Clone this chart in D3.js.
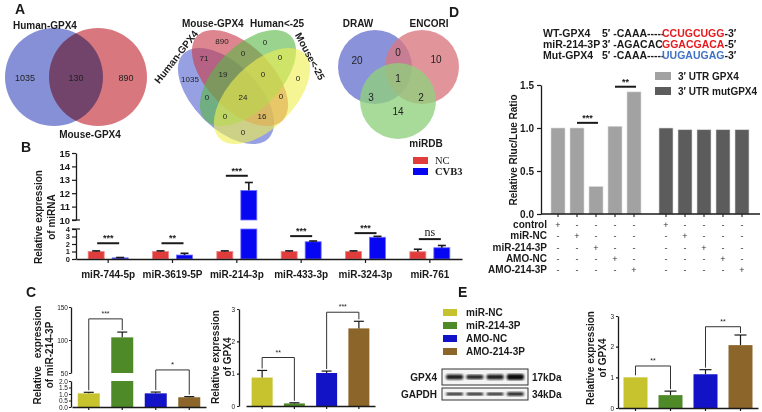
<!DOCTYPE html>
<html>
<head>
<meta charset="utf-8">
<script src="https://cdn.jsdelivr.net/npm/d3@7"></script>
<style>
  body { margin: 0; background: #fff; }
  svg { display: block; }
</style>
</head>
<body>
<svg id="fig" width="762" height="412"></svg>
<script>
// ---- data ----
const venn2Sets = ["Human-GPX4", "Mouse-GPX4"];
const venn2Counts = [1035, 130, 890];            // only A, A&B, only B
const venn4Sets = ["Human-GPX4", "Mouse-GPX4", "Human<-25", "Mouse<-25"];
const venn4Counts = [1035, 890, 0, 0, 71, 0, 0, 19, 0, 0, 24, 0, 0, 16, 0];
const venn3Sets = ["DRAW", "ENCORI", "miRDB"];
const venn3Counts = [20, 10, 14, 0, 3, 2, 1];     // D, E, M, D&E, D&M, E&M, all

const mirnaNames = ["miR-744-5p", "miR-3619-5P", "miR-214-3p", "miR-433-3p", "miR-324-3p", "miR-761"];
const ncValues = [1.0, 1.0, 1.0, 1.0, 1.0, 0.97];
const ncErrors = [0.08, 0.08, 0.08, 0.08, 0.08, 0.33];
const cvb3Values = [0.15, 0.53, 12.2, 2.3, 2.9, 1.5];
const cvb3Errors = [0.05, 0.23, 0.6, 0.1, 0.12, 0.3];
const mirnaSig = ["***", "**", "***", "***", "***", "ns"];
const mirnaSigLevel = [2.1, 2.1, 13.3, 3.05, 3.45, 2.65];

const groupNames = ["miR-NC", "miR-214-3P", "AMO-NC", "AMO-214-3P"];
const mir214Values = [1.05, 104, 1.05, 0.75];
const mir214Errors = [0.08, 8, 0.1, 0.05];
const gpxRnaValues = [0.88, 0.08, 1.02, 2.4];
const gpxRnaErrors = [0.22, 0.02, 0.06, 0.22];
const gpxProteinValues = [1.0, 0.42, 1.1, 2.05];
const gpxProteinErrors = [0.0, 0.13, 0.15, 0.33];

const lucRows = ["control", "miR-NC", "miR-214-3P", "AMO-NC", "AMO-214-3P"];
const lucSeries = ["3\u2032 UTR GPX4", "3\u2032 UTR mutGPX4"];
const utrGpx4 = [1.0, 1.0, 0.32, 1.02, 1.42];
const utrMutGpx4 = [1.0, 0.98, 0.98, 0.98, 0.98];

const seqNames = ["WT-GPX4", "miR-214-3P", "Mut-GPX4"];
const seqLeft = ["5\u2032 -CAAA-----", "3\u2032 -AGACAC", "5\u2032 -CAAA-----"];
const seqSite = ["CCUGCUGG", "GGACGACA", "UUGAUGAG"];
const seqRight = ["-3\u2032", "-5\u2032", "-3\u2032"];

const blotProteins = ["GPX4", "GAPDH"];
const blotSizes = ["17kDa", "34kDa"];
const gpx4Bands = [0.85, 0.75, 0.85, 1.0];
const gapdhBands = [0.8, 0.8, 0.8, 0.9];

// ---- helpers ----
const font = '"Liberation Sans", Arial, sans-serif';
const serif = '"Liberation Serif", "Times New Roman", serif';
const ink = "#1a1a1a";
const groupColors = ["#c7c32e", "#4f8a28", "#1212c6", "#8b6529"];

const svg = d3.select("#fig");
svg.append("rect").attr("width", 762).attr("height", 412).attr("fill", "#fff");

function txt(g, x, y, s, o = {}) {
  return g.append("text").attr("x", x).attr("y", y).text(s)
    .attr("font-family", o.family || font)
    .attr("font-size", o.size || 10)
    .attr("font-weight", o.weight || "bold")
    .attr("text-anchor", o.anchor || "start")
    .attr("fill", o.fill || ink);
}

function styleAxis(sel, size, weight) {
  sel.attr("font-family", font).attr("font-size", size).attr("font-weight", weight);
  sel.select(".domain").attr("stroke", ink).attr("stroke-width", 1.3);
  sel.selectAll(".tick line").attr("stroke", ink).attr("stroke-width", 1.2);
  sel.selectAll(".tick text").attr("fill", ink);
}

function line(g, x1, y1, x2, y2, w) {
  g.append("line").attr("x1", x1).attr("y1", y1).attr("x2", x2).attr("y2", y2)
    .attr("stroke", ink).attr("stroke-width", w || 1.2);
}

function errBar(g, x, y0, y1, cap, w) {
  line(g, x, y0, x, y1, w);
  line(g, x - cap, y1, x + cap, y1, w);
}

function bracket(g, x1, x2, yTop, yL, yR, label, size) {
  g.append("path").attr("d", `M${x1},${yL}V${yTop}H${x2}V${yR}`)
    .attr("fill", "none").attr("stroke", "#333").attr("stroke-width", 1);
  txt(g, (x1 + x2) / 2, yTop - 3, label, { size: size || 7, weight: "normal", anchor: "middle" });
}

function yLabel(g, x, y, lines, gap) {
  const t = g.append("text").attr("transform", `translate(${x},${y}) rotate(-90)`)
    .attr("font-family", font).attr("font-size", 10).attr("font-weight", "bold")
    .attr("text-anchor", "middle").attr("fill", ink);
  lines.forEach((s, i) => t.append("tspan").attr("x", 0).attr("dy", i ? gap : 0).text(s));
}

// ---- panel letters ----
[["A", 15, 14], ["B", 21, 152], ["C", 26, 297], ["D", 449, 17], ["E", 458, 297]]
  .forEach(([s, x, y]) => txt(svg, x, y, s, { size: 14 }));

// ---- A: two-set venn ----
{
  const g = svg.append("g");
  const cy = 77, r = 49;
  const cx = [54, 98];
  const fills = ["#8690d6", "#d9777f"];
  cx.forEach((x, i) => g.append("circle").attr("cx", x).attr("cy", cy).attr("r", r)
    .attr("fill", fills[i]).style("mix-blend-mode", i ? "multiply" : "normal"));
  const lx = [(cx[0] - r + cx[1] - r) / 2 - 2, (cx[0] + cx[1]) / 2, (cx[0] + r + cx[1] + r) / 2 + 1];
  venn2Counts.forEach((v, i) => txt(g, lx[i], cy + 4, v, { size: 9, weight: "normal", anchor: "middle", fill: "#222" }));
  txt(g, 13, 29, venn2Sets[0], { size: 10 });
  txt(g, 90, 138, venn2Sets[1], { size: 10, anchor: "middle" });
}

// ---- A: four-set venn ----
{
  const g = svg.append("g");
  const cx = 244, cy = 84, a = 60, b = 32;
  const ell = [
    { x: cx - 18, y: cy + 12, r: 45, c: "#5566d0" },
    { x: cx - 4, y: cy - 6, r: 45, c: "#c83c4a" },
    { x: cx + 4, y: cy - 6, r: -45, c: "#5ab848" },
    { x: cx + 18, y: cy + 12, r: -45, c: "#efef50" }
  ];
  ell.forEach(e => g.append("ellipse").attr("rx", a).attr("ry", b)
    .attr("transform", `translate(${e.x},${e.y}) rotate(${e.r})`)
    .attr("fill", e.c).attr("fill-opacity", 0.62));
  // region label anchors (layout, relative to diagram centre)
  const spots = [[-54, -5], [-22, -43], [21, -42], [54, -6], [-40, -26], [-1, -31], [36, -27],
    [-21, -10], [19, -10], [-37, 13], [-1, 13], [37, 12], [-19, 32], [18, 32], [-1, 48]];
  venn4Counts.forEach((v, i) => txt(g, cx + spots[i][0], cy + spots[i][1] + 3, v,
    { size: 8, weight: "normal", anchor: "middle", fill: "#222" }));
  txt(g, 182, 27, venn4Sets[1], { size: 10 });
  txt(g, 250, 27, venn4Sets[2], { size: 10 });
  txt(g, 0, 0, venn4Sets[0], { size: 10, anchor: "middle" })
    .attr("transform", "translate(179,59) rotate(-52)");
  txt(g, 0, 0, venn4Sets[3], { size: 10, anchor: "middle" })
    .attr("transform", "translate(307,58) rotate(62)");
}

// ---- A: three-set venn ----
{
  const g = svg.append("g");
  const c = [{ x: 375, y: 67, r: 37, f: "#8a92da" }, { x: 422, y: 67, r: 37, f: "#d8777f" }, { x: 398, y: 101, r: 38, f: "#8fd07c" }];
  c.forEach((d, i) => g.append("circle").attr("cx", d.x).attr("cy", d.y).attr("r", d.r)
    .attr("fill", d.f).attr("fill-opacity", i ? 0.78 : 1));
  const spots = [[357, 60], [436, 59], [398, 111], [398, 52], [371, 97], [421, 97], [398, 78]];
  venn3Counts.forEach((v, i) => txt(g, spots[i][0], spots[i][1] + 4, v, { size: 10, weight: "normal", anchor: "middle", fill: "#222" }));
  txt(g, 358, 27, venn3Sets[0], { size: 10 , anchor: "middle" });
  txt(g, 429, 27, venn3Sets[1], { size: 10, anchor: "middle" });
  txt(g, 426, 147, venn3Sets[2], { size: 10, anchor: "middle" });
}

// ---- B: miRNA expression with broken axis ----
{
  const g = svg.append("g");
  const yLow = d3.scaleLinear().domain([0, 4]).range([259, 229]);
  const yUp = d3.scaleLinear().domain([10, 15]).range([220, 153]);
  const yMap = v => v < 10 ? yLow(v) : yUp(v);
  const x = d3.scaleBand().domain(mirnaNames).range([76, 462]);
  const sub = d3.scalePoint().domain(["NC", "CVB3"]).range([-12, 12]);
  const center = n => x(n) + x.bandwidth() / 2;
  const bw = 16;
  const series = [
    { key: "NC", vals: ncValues, errs: ncErrors, c: "#e03c3c", s: "#f08585" },
    { key: "CVB3", vals: cvb3Values, errs: cvb3Errors, c: "#0606f2", s: "#7070ff" }
  ];
  series.forEach(s => {
    mirnaNames.forEach((n, i) => {
      const v = s.vals[i], cxp = center(n) + sub(s.key);
      const lowTop = yLow(Math.min(v, 4));
      g.append("rect").attr("x", cxp - bw / 2).attr("y", lowTop).attr("width", bw)
        .attr("height", yLow(0) - lowTop).attr("fill", s.c).attr("stroke", s.s).attr("stroke-width", 0.8);
      if (v > 10) {
        g.append("rect").attr("x", cxp - bw / 2).attr("y", yUp(v)).attr("width", bw)
          .attr("height", yUp(10) - yUp(v)).attr("fill", s.c).attr("stroke", s.s).attr("stroke-width", 0.8);
      }
      errBar(g, cxp, yMap(v), yMap(v + s.errs[i]), 4, 1.6);
    });
  });
  mirnaNames.forEach((n, i) => {
    const yl = yMap(mirnaSigLevel[i]), c = center(n);
    line(g, c - 11, yl, c + 11, yl, 2);
    if (mirnaSig[i] === "ns") txt(g, c, yl - 3, "ns", { size: 12, weight: "normal", anchor: "middle", family: serif });
    else txt(g, c, yl - 2, mirnaSig[i], { size: 9, weight: "bold", anchor: "middle" });
  });
  styleAxis(g.append("g").attr("transform", "translate(76,0)")
    .call(d3.axisLeft(yLow).tickValues([0, 1, 2, 3, 4]).tickFormat(d3.format("d")).tickSize(4).tickPadding(2).tickSizeOuter(0)), 7.5, "bold");
  styleAxis(g.append("g").attr("transform", "translate(76,0)")
    .call(d3.axisLeft(yUp).tickValues([10, 11, 12, 13, 14, 15]).tickFormat(d3.format("d")).tickSize(4).tickPadding(2).tickSizeOuter(0)), 9.5, "bold");
  line(g, 72, yLow(4), 80, yLow(4), 1.2);
  line(g, 72, yUp(10), 80, yUp(10), 1.2);
  const xa = g.append("g").attr("transform", `translate(0,${yLow(0)})`)
    .call(d3.axisBottom(x).tickSize(4).tickSizeOuter(0).tickPadding(6));
  styleAxis(xa, 10, "bold");
  xa.selectAll(".tick text").attr("dy", "0.9em");
  yLabel(g, 42, 217, ["Relative expression", "of miRNA"], 12.5);
  series.forEach((s, i) => {
    g.append("rect").attr("x", 413).attr("y", 157 + i * 11).attr("width", 15).attr("height", 7).attr("fill", s.c);
    txt(g, 435, 164 + i * 11, s.key, { size: 10.5, weight: i ? "bold" : "normal", family: serif });
  });
}

// ---- C left: miR-214-3P (broken axis) ----
{
  const g = svg.append("g");
  const yLow = d3.scaleLinear().domain([0, 2]).range([407, 381]);
  const yUp = d3.scaleLinear().domain([50, 150]).range([373, 307]);
  const yMap = v => v < 50 ? yLow(v) : yUp(v);
  const x = d3.scaleBand().domain(groupNames).range([72, 206]);
  const ctr = n => x(n) + x.bandwidth() / 2;
  const bw = 22;
  groupNames.forEach((n, i) => {
    const v = mir214Values[i], c = ctr(n);
    const lt = yLow(Math.min(v, 2));
    g.append("rect").attr("x", c - bw / 2).attr("y", lt).attr("width", bw).attr("height", yLow(0) - lt).attr("fill", groupColors[i]);
    if (v > 50) g.append("rect").attr("x", c - bw / 2).attr("y", yUp(v)).attr("width", bw).attr("height", yUp(50) - yUp(v)).attr("fill", groupColors[i]);
    errBar(g, c, yMap(v), yMap(v + mir214Errors[i]), 5, 1.2);
  });
  const top = i => yMap(mir214Values[i] + mir214Errors[i]) - 2;
  bracket(g, ctr(groupNames[0]), ctr(groupNames[1]), yUp(132), top(0), top(1), "***", 7);
  bracket(g, ctr(groupNames[2]), ctr(groupNames[3]), yLow(2.85), top(2), top(3), "*", 8);
  styleAxis(g.append("g").attr("transform", "translate(71,0)")
    .call(d3.axisLeft(yLow).tickValues([0, 0.5, 1, 1.5, 2]).tickFormat(d3.format(".1f")).tickSize(2).tickPadding(1).tickSizeOuter(0)), 6.5, "normal");
  styleAxis(g.append("g").attr("transform", "translate(71,0)")
    .call(d3.axisLeft(yUp).tickValues([50, 100, 150]).tickSize(2).tickPadding(1).tickSizeOuter(0)), 6.5, "normal");
  styleAxis(g.append("g").attr("transform", `translate(0,${yLow(0)})`)
    .call(d3.axisBottom(x).tickSize(3).tickSizeOuter(0).tickFormat("")), 6, "normal");
  const yl = g.append("text").attr("transform", "translate(41,355) rotate(-90)")
    .attr("font-family", font).attr("font-size", 10).attr("font-weight", "bold").attr("text-anchor", "middle").attr("fill", ink);
  yl.append("tspan").attr("x", 0).attr("word-spacing", 5).text("Relative expression");
  yl.append("tspan").attr("x", 0).attr("dy", 12).text("of miR-214-3P");
}

// ---- C right: GPX4 mRNA ----
{
  const g = svg.append("g");
  const y = d3.scaleLinear().domain([0, 3]).range([406, 309]);
  const x = d3.scaleBand().domain(groupNames).range([246, 375]);
  const ctr = n => x(n) + x.bandwidth() / 2;
  const bw = 21;
  groupNames.forEach((n, i) => {
    const c = ctr(n);
    g.append("rect").attr("x", c - bw / 2).attr("y", y(gpxRnaValues[i])).attr("width", bw)
      .attr("height", y(0) - y(gpxRnaValues[i])).attr("fill", groupColors[i]);
    errBar(g, c, y(gpxRnaValues[i]), y(gpxRnaValues[i] + gpxRnaErrors[i]), 5, 1.2);
  });
  const top = i => y(gpxRnaValues[i] + gpxRnaErrors[i]) - 2;
  bracket(g, ctr(groupNames[0]), ctr(groupNames[1]), y(1.5), top(0), top(1), "**", 7);
  bracket(g, ctr(groupNames[2]), ctr(groupNames[3]), y(2.9), top(2), top(3), "***", 7);
  styleAxis(g.append("g").attr("transform", "translate(239,0)")
    .call(d3.axisLeft(y).ticks(3).tickSize(2).tickPadding(2).tickSizeOuter(0)), 6.5, "normal");
  styleAxis(g.append("g").attr("transform", `translate(0,${y(0)})`)
    .call(d3.axisBottom(x).tickSize(3).tickSizeOuter(0).tickFormat("")), 6, "normal");
  yLabel(g, 219, 357, ["Relative expression", "of GPX4"], 12);
}

// ---- D: sequences + luciferase ----
{
  const g = svg.append("g");
  const siteColors = ["#e8191f", "#e8191f", "#3f73c7"];
  seqNames.forEach((n, i) => {
    const yy = 37 + i * 11;
    txt(g, 543, yy, n, { size: 10.5 });
    txt(g, 602, yy, seqLeft[i], { size: 10.5 });
    const t = txt(g, 662, yy, "", { size: 10.5 });
    t.append("tspan").attr("fill", siteColors[i]).text(seqSite[i]);
    t.append("tspan").text(seqRight[i]);
  });
  const y = d3.scaleLinear().domain([0, 1.5]).range([214, 85]);
  const xs = [d3.scalePoint().domain(lucRows).range([558, 634]), d3.scalePoint().domain(lucRows).range([666, 742])];
  const data = [utrGpx4, utrMutGpx4];
  const fills = ["#a2a2a2", "#5c5c5c"];
  const bw = 14;
  data.forEach((vals, s) => lucRows.forEach((r, i) => {
    g.append("rect").attr("x", xs[s](r) - bw / 2).attr("y", y(vals[i])).attr("width", bw)
      .attr("height", y(0) - y(vals[i])).attr("fill", fills[s]).attr("stroke", "#dadada").attr("stroke-width", 0.6);
  }));
  const sig = [{ a: 1, b: 2, lv: 1.06, s: "***" }, { a: 3, b: 4, lv: 1.48, s: "**" }];
  sig.forEach(d => {
    const x1 = xs[0](lucRows[d.a]), x2 = xs[0](lucRows[d.b]) + 2;
    line(g, x1, y(d.lv), x2, y(d.lv), 2);
    txt(g, (x1 + x2) / 2, y(d.lv) - 2, d.s, { size: 9, anchor: "middle" });
  });
  styleAxis(g.append("g").attr("transform", "translate(541,0)")
    .call(d3.axisLeft(y).tickValues([0, 0.5, 1, 1.5]).tickFormat(d3.format(".1f")).tickSize(4).tickSizeOuter(0)), 10, "bold");
  line(g, 541, y(0), 760, y(0), 1.3);
  xs.forEach(sc => lucRows.forEach(r => line(g, sc(r), y(0), sc(r), y(0) + 3, 1.1)));
  yLabel(g, 517, 150, ["Relative Rluc/Lue Ratio"], 0);
  lucSeries.forEach((s, i) => {
    g.append("rect").attr("x", 655).attr("y", 72 + i * 15).attr("width", 16).attr("height", 8).attr("fill", fills[i]);
    txt(g, 678, 80 + i * 15, s, { size: 10 });
  });
  lucRows.forEach((r, ri) => {
    const yy = 228 + ri * 11.3;
    txt(g, 547, yy, r, { size: 10, anchor: "end" });
    xs.forEach(sc => lucRows.forEach((c, ci) =>
      txt(g, sc(c), yy, ci === ri ? "+" : "-", { size: 9, weight: "normal", anchor: "middle", fill: "#333" })));
  });
}

// ---- E: legend, western blot, protein quantification ----
{
  const g = svg.append("g");
  groupNames.forEach((n, i) => {
    g.append("rect").attr("x", 443).attr("y", 309 + i * 13).attr("width", 14).attr("height", 7).attr("fill", groupColors[i]);
    txt(g, 466, 316 + i * 13, n, { size: 10 });
  });
  const defs = svg.append("defs");
  defs.append("filter").attr("id", "soft").append("feGaussianBlur").attr("stdDeviation", 0.9);
  const lanes = d3.scaleBand().domain(groupNames).range([444, 526]).padding(0.05);
  const boxes = [{ y: 369, h: 16, bands: gpx4Bands, bh: 6 }, { y: 388, h: 12, bands: gapdhBands, bh: 4 }];
  boxes.forEach((b, k) => {
    g.append("rect").attr("x", 442).attr("y", b.y).attr("width", 86).attr("height", b.h)
      .attr("fill", "#f4f4f4").attr("stroke", "#333").attr("stroke-width", 1);
    groupNames.forEach((n, i) => {
      const h = b.bh * b.bands[i];
      g.append("rect").attr("x", lanes(n) + 1).attr("y", b.y + b.h / 2 - h / 2).attr("width", lanes.bandwidth() - 2)
        .attr("height", h).attr("rx", 2).attr("fill", "#111").attr("fill-opacity", 0.6 + 0.4 * b.bands[i])
        .attr("filter", "url(#soft)");
    });
    txt(g, 437, b.y + b.h / 2 + 4, blotProteins[k], { size: 10, anchor: "end" });
    txt(g, 532, b.y + b.h / 2 + 4, blotSizes[k], { size: 10 });
  });
  const y = d3.scaleLinear().domain([0, 3]).range([408, 316]);
  const x = d3.scaleBand().domain(groupNames).range([618, 758]);
  const ctr = n => x(n) + x.bandwidth() / 2;
  const bw = 24;
  groupNames.forEach((n, i) => {
    const c = ctr(n);
    g.append("rect").attr("x", c - bw / 2).attr("y", y(gpxProteinValues[i])).attr("width", bw)
      .attr("height", y(0) - y(gpxProteinValues[i])).attr("fill", groupColors[i]);
    if (gpxProteinErrors[i] > 0) errBar(g, c, y(gpxProteinValues[i]), y(gpxProteinValues[i] + gpxProteinErrors[i]), 6, 1.2);
  });
  const top = i => y(gpxProteinValues[i] + gpxProteinErrors[i]) - 2;
  bracket(g, ctr(groupNames[0]), ctr(groupNames[1]), y(1.37), top(0), top(1), "**", 7);
  bracket(g, ctr(groupNames[2]), ctr(groupNames[3]), y(2.65), top(2), top(3), "**", 7);
  styleAxis(g.append("g").attr("transform", "translate(618,0)")
    .call(d3.axisLeft(y).ticks(3).tickSize(2).tickPadding(2).tickSizeOuter(0)), 6.5, "normal");
  styleAxis(g.append("g").attr("transform", `translate(0,${y(0)})`)
    .call(d3.axisBottom(x).tickSize(3).tickSizeOuter(0).tickFormat("")), 6, "normal");
  yLabel(g, 594, 358, ["Relative expression", "of GPX4"], 12);
}
</script>
</body>
</html>
